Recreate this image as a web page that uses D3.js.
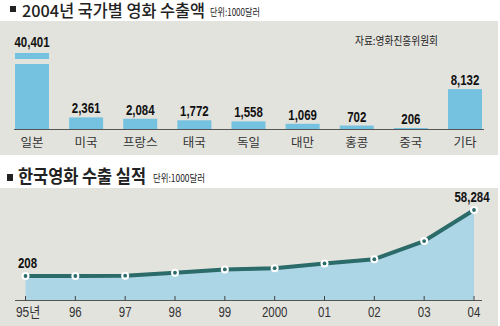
<!DOCTYPE html>
<html><head><meta charset="utf-8">
<script src="https://cdn.jsdelivr.net/npm/d3@7/dist/d3.min.js"></script>
<style>
body{margin:0;background:#fff}
.num{font-family:"Liberation Sans",Arial,sans-serif;font-weight:bold;}
.kr{font-family:"Noto Sans CJK KR","Noto Sans",sans-serif;}
.tick{font-family:"Liberation Sans","Noto Sans CJK KR",sans-serif;}
</style></head>
<body>
<svg id="c" width="500" height="326"></svg>
<script>
// ---- data ----
const countries = ["일본","미국","프랑스","태국","독일","대만","홍콩","중국","기타"];
const exports2004 = [40401,2361,2084,1772,1558,1069,702,206,8132];
const years = ["95년","96","97","98","99","2000","01","02","03","04"];
const yearlyExports = [208,223,493,3074,5969,7053,11249,14952,30979,58284];
const labelledYears = ["95년","04"];

const fmt = d3.format(",");
const svg = d3.select("#c");
const BG = "#e3e3de", BAR = "#74c1e0", AREA = "#acd5e6", LINE = "#2b6b69";

// condensed look: compress Liberation Sans to ~82% width
function narrowLen(str, fs){
  let w = 0;
  for (const ch of str){
    if (/[0-9]/.test(ch)) w += 0.556;
    else if (ch === ",") w += 0.278;
    else w += 1.0;
  }
  return w*fs*0.82;
}

// panels
svg.append("rect").attr("x",0).attr("y",21).attr("width",498).attr("height",134).attr("fill",BG);
svg.append("rect").attr("x",0).attr("y",188).attr("width",498).attr("height",138).attr("fill",BG);

// titles
svg.append("rect").attr("x",10).attr("y",6).attr("width",6).attr("height",6).attr("fill","#222");
svg.append("text").attr("class","kr").attr("x",22).attr("y",17).attr("font-size",16.5).attr("font-weight",500)
  .attr("textLength",183).attr("lengthAdjust","spacingAndGlyphs").attr("fill","#222").text("2004년 국가별 영화 수출액");
svg.append("text").attr("class","kr").attr("x",210).attr("y",16).attr("font-size",10)
  .attr("textLength",50).attr("lengthAdjust","spacingAndGlyphs").attr("fill","#222").text("단위:1000달러");
svg.append("text").attr("class","kr").attr("x",355).attr("y",45).attr("font-size",11)
  .attr("textLength",83).attr("lengthAdjust","spacingAndGlyphs").attr("fill","#222").text("자료:영화진흥위원회");

svg.append("rect").attr("x",7).attr("y",174).attr("width",6).attr("height",7).attr("fill","#222");
svg.append("text").attr("class","kr").attr("x",18).attr("y",183).attr("font-size",18).attr("font-weight",700)
  .attr("textLength",128).attr("lengthAdjust","spacingAndGlyphs").attr("fill","#222").text("한국영화 수출 실적");
svg.append("text").attr("class","kr").attr("x",153).attr("y",182).attr("font-size",10)
  .attr("textLength",52).attr("lengthAdjust","spacingAndGlyphs").attr("fill","#222").text("단위:1000달러");

// ---- bar chart ----
const bx = d3.scalePoint().domain(countries).range([32,465]);
const CAP = 15500;
const by = d3.scaleLinear().domain([0,CAP]).range([129,53]).clamp(true);
const barW = 34;
const bars = countries.map((c,i)=>({c, v:exports2004[i]}));
const bg = svg.append("g");
bg.selectAll("rect.bar").data(bars).join("rect").attr("class","bar")
  .attr("x",d=>bx(d.c)-barW/2).attr("width",barW)
  .attr("y",d=>by(d.v)).attr("height",d=>by(0)-by(d.v)).attr("fill",BAR);
// break mark for the bar exceeding the cap
bg.selectAll("rect.brk").data(bars.filter(d=>d.v>CAP)).join("rect").attr("class","brk")
  .attr("x",d=>bx(d.c)-barW/2-1).attr("width",barW+2)
  .attr("y",by(CAP)+6).attr("height",5).attr("fill",BG);
bg.append("line").attr("x1",14).attr("x2",484).attr("y1",by(0)+0.5).attr("y2",by(0)+0.5)
  .attr("stroke","#555").attr("stroke-width",1.2);
bg.selectAll("text.val").data(bars).join("text").attr("class","num val")
  .attr("x",d=>bx(d.c)).attr("y",d=>by(d.v)-(d.v>CAP?6:4)).attr("text-anchor","middle")
  .attr("font-size",14).attr("fill","#111")
  .attr("textLength",d=>narrowLen(fmt(d.v),14)).attr("lengthAdjust","spacingAndGlyphs")
  .text(d=>fmt(d.v));
bg.selectAll("text.cat").data(bars).join("text").attr("class","kr cat")
  .attr("x",d=>bx(d.c)).attr("y",147).attr("text-anchor","middle")
  .attr("font-size",12.5).attr("fill","#333").text(d=>d.c);

// ---- line chart ----
const lx = d3.scalePoint().domain(years).range([25.5,474]);
const ly = d3.scaleLinear().domain([208,58284]).range([276,210]);
const base = 300;
const pts = years.map((y,i)=>({y, v:yearlyExports[i]}));
const lg = svg.append("g");
lg.append("path").datum(pts)
  .attr("d",d3.area().x(d=>lx(d.y)).y0(base).y1(d=>ly(d.v)))
  .attr("fill",AREA);
lg.append("line").attr("x1",15).attr("x2",482).attr("y1",base+0.5).attr("y2",base+0.5)
  .attr("stroke","#555").attr("stroke-width",1.2);
lg.selectAll("line.tk").data(years).join("line").attr("class","tk")
  .attr("x1",d=>lx(d)).attr("x2",d=>lx(d)).attr("y1",base-4).attr("y2",base+1)
  .attr("stroke","#444").attr("stroke-width",1);
lg.append("path").datum(pts)
  .attr("d",d3.line().x(d=>lx(d.y)).y(d=>ly(d.v)))
  .attr("fill","none").attr("stroke",LINE).attr("stroke-width",4).attr("stroke-linejoin","round");
lg.selectAll("circle.o").data(pts).join("circle").attr("class","o")
  .attr("cx",d=>lx(d.y)).attr("cy",d=>ly(d.v)).attr("r",4).attr("fill","#fff");
lg.selectAll("circle.i").data(pts).join("circle").attr("class","i")
  .attr("cx",d=>lx(d.y)).attr("cy",d=>ly(d.v)).attr("r",1.9).attr("fill",LINE);
lg.selectAll("text.yl").data(years).join("text").attr("class","tick yl")
  .attr("x",d=>lx(d)+(d==="95년"?2.5:0)).attr("y",317).attr("text-anchor","middle")
  .attr("font-size",14).attr("fill","#333")
  .attr("textLength",d=>narrowLen(d,14)).attr("lengthAdjust","spacingAndGlyphs")
  .text(d=>d);
const lab = pts.filter(d=>labelledYears.includes(d.y));
lg.selectAll("text.lv").data(lab).join("text").attr("class","num lv")
  .attr("x",(d,i)=>lx(d.y)+(i===0?2:-2)).attr("y",d=>ly(d.v)-8)
  .attr("text-anchor","middle")
  .attr("font-size",14).attr("fill","#111")
  .attr("textLength",d=>narrowLen(fmt(d.v),14)).attr("lengthAdjust","spacingAndGlyphs")
  .text(d=>fmt(d.v));
</script>
</body></html>
